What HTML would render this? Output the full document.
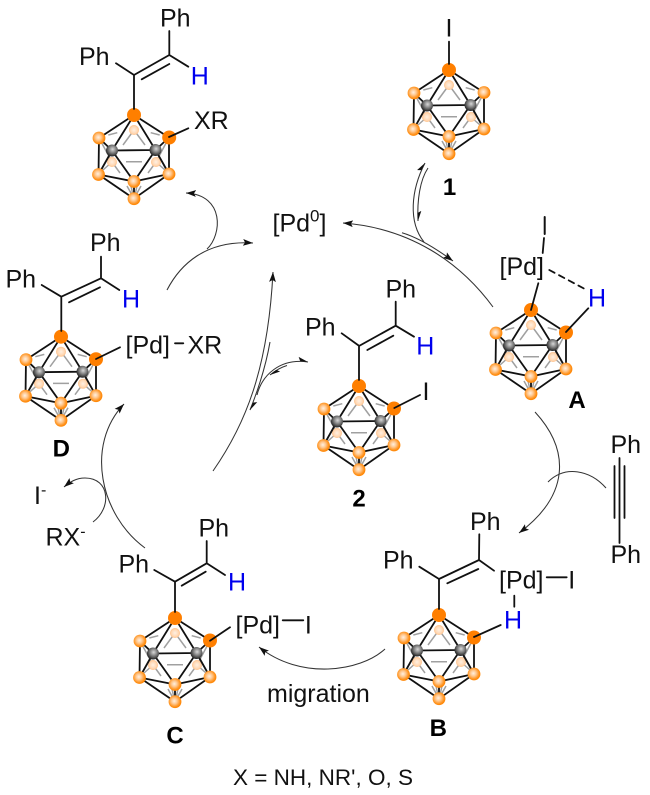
<!DOCTYPE html>
<html><head><meta charset="utf-8"><style>
html,body{margin:0;padding:0;background:#fff}
svg{display:block}
text{font-family:"Liberation Sans",Arial,sans-serif;font-size:25px;fill:#111}
.b{font-weight:bold;font-size:24px;text-anchor:middle;fill:#000}
.h{fill:#0000ee}
.m{text-anchor:middle}
.k{stroke:#111;stroke-width:1.8;fill:none;stroke-linecap:round}
.a{stroke:#333;stroke-width:1.05;fill:none}
</style></head><body>
<svg width="650" height="795" viewBox="0 0 650 795" xmlns="http://www.w3.org/2000/svg">
<defs>
<radialGradient id="o" cx="45%" cy="45%" r="55%"><stop offset="0" stop-color="#fff0e0"/><stop offset=".4" stop-color="#ffc890"/><stop offset=".8" stop-color="#ff9420"/><stop offset="1" stop-color="#ff8400"/></radialGradient>
<radialGradient id="p" cx="50%" cy="50%" r="50%"><stop offset="0" stop-color="#fff0e2"/><stop offset=".7" stop-color="#ffd8b4"/><stop offset="1" stop-color="#ffc088"/></radialGradient>
<radialGradient id="c" cx="55%" cy="40%" r="60%"><stop offset="0" stop-color="#d8d8d8"/><stop offset=".55" stop-color="#777"/><stop offset="1" stop-color="#222"/></radialGradient>
<marker id="ah" markerUnits="userSpaceOnUse" markerWidth="12" markerHeight="10" refX="10" refY="5" orient="auto"><path d="M0,1.6 L10,5 L0,8.4 L2,5 Z" fill="#111"/></marker>
<marker id="hh" markerUnits="userSpaceOnUse" markerWidth="12" markerHeight="10" refX="10" refY="5" orient="auto"><path d="M0,1.2 L10,5 L2,5 Z" fill="#111"/></marker>
<g id="cage">
<g stroke="#a0a0a0" stroke-width="1.5" fill="none">
<path d="M0,15L-11,30M0,15L11,30M-25.7,20L-16.7,17.7M25.7,20L16.7,17.7M-8,46.7L8,46.7"/>
<path d="M-35,23L-22,47L-14,58M-22,47L-31,55M35,22.5L22,47L14,58M22,47L31,55M-7,71L-2,80M7,71L2,80M-3,71L-1,80M3,71L1,80"/>
</g>
<circle cx="0" cy="15" r="5" fill="url(#p)"/>
<circle cx="-22" cy="47" r="5" fill="url(#p)"/>
<circle cx="22" cy="47" r="5" fill="url(#p)"/>
<g stroke="#111" stroke-width="1.8" fill="none">
<path d="M0,0L-35,23M0,0L35,22.5M0,0L-22,35.5M0,0L21.5,35M-35,23L-22,35.5M35,22.5L21.5,35M-22,35.5L21.5,35"/>
<path d="M-22,35.5L0,66.5M21.5,35L0,66.5M-22,35.5L-35.5,59.5M21.5,35L35,59M-35,23L-35.5,59.5M35,22.5L35,59"/>
<path d="M-35.5,59.5L0,66.5M35,59L0,66.5M-35.5,59.5L0,83.7M35,59L0,83.7M0,66.5L0,83.7"/>
</g>
<g fill="url(#o)">
<circle cx="-35" cy="23" r="6.4"/><circle cx="35" cy="22.5" r="6.4"/>
<circle cx="-35.5" cy="59.5" r="6.4"/><circle cx="35" cy="59" r="6.4"/>
<circle cx="0" cy="66.5" r="6.4"/><circle cx="0" cy="83.7" r="6.4"/>
</g>
<circle cx="-22" cy="35.5" r="6" fill="url(#c)"/><circle cx="21.5" cy="35" r="6" fill="url(#c)"/>
<circle cx="0" cy="0" r="7" fill="#ff7f00"/>
</g>
</defs>
<rect width="650" height="795" fill="#fff"/>

<!-- cages -->
<use href="#cage" x="134" y="115"/><circle cx="169.2" cy="137.5" r="7" fill="#ff7f00"/>
<use href="#cage" x="449" y="70"/>
<use href="#cage" x="531" y="310"/><circle cx="566" cy="332.5" r="7" fill="#ff7f00"/>
<use href="#cage" x="359" y="386"/><circle cx="394" cy="408.5" r="7" fill="#ff7f00"/>
<use href="#cage" x="61" y="336.7"/><circle cx="96" cy="359.2" r="7" fill="#ff7f00"/>
<use href="#cage" x="439" y="615"/><circle cx="474" cy="637.5" r="7" fill="#ff7f00"/>
<use href="#cage" x="175" y="618"/><circle cx="210" cy="640.5" r="7" fill="#ff7f00"/>

<!-- bonds -->
<g class="k">
<path d="M134,109V75L169.3,55M141.7,79.3L169.3,64M116,63.3L134,75M169.3,55V31M169.3,55L188.3,66.7M169,137L188.3,128.3"/>
<path d="M449,64V41.7"/>
<path d="M544,238L542.7,253M538.3,283.3L531,310M566,332L588.3,308.3"/>
<path d="M549.3,270L586.7,290" stroke-dasharray="6,5"/>
<path d="M544.7,217V234" stroke-width="2"/>
<path d="M359,380V346L395.7,325.7M367.3,350L393.3,335.7M341.7,333.3L359.3,346M395.7,325.7V301.7M395.7,325.7L414,336.7M394.3,408L420,395"/>
<path d="M61.3,331V296.7L101,278.3M69,302.3L100,287.3M41.7,285L61.3,296.7M101,278.3V256.7M101,278.3L119.3,290M96,359L120,347.3"/>
<path d="M175,343.3H183.3"/>
<path d="M439,609V579L479,560M447.3,583.3L478.3,569M419.3,566.7L439,579M479,560L479.3,534.3M479,560L494,570.7M546.7,577.3H566.7M514.3,595.7V606.7M474,637L500.7,625"/>
<path d="M175,612V581.7L206.7,563.3M181.7,585.7L205.7,571.7M154.3,570L175,581.7M206.7,563.3V541M206.7,563.3L225,575M282.7,620.3H303.3M210,640.7L230,627.3"/>
<path d="M614.5,466V518M619.5,458V543M624.5,466V518"/>
</g>

<!-- arrows -->
<g class="a">
<path d="M493,307C460,262 410,228 343,223" marker-end="url(#ah)"/>
<path d="M402,232.7C420,238 438,250 453,261" marker-end="url(#ah)"/>
<path d="M424,242C408,222 411,190 425,163" marker-end="url(#hh)"/>
<path d="M428,168C420,180 417,200 418,221" marker-end="url(#hh)"/>
<path d="M535,412C570,450 570,495 519,533" marker-end="url(#ah)"/>
<path d="M606,488C590,470 565,465 548,482"/>
<path d="M385,649C360,672 300,680 259,647" marker-end="url(#ah)"/>
<path d="M145,548C100,515 85,445 124,404" marker-end="url(#ah)"/>
<path d="M93,522C112,508 110,478 85,478C76,478 70,482 64,487" marker-end="url(#ah)"/>
<path d="M167,290C180,265 205,240 253,243" marker-end="url(#ah)"/>
<path d="M207,249C222,235 225,195 186,193" marker-end="url(#ah)"/>
<path d="M213,471C245,425 268,370 273,272" marker-end="url(#ah)"/>
<path d="M270,342C266,365 260,385 250,410" marker-end="url(#hh)"/>
<path d="M257,395C262,375 280,358 308,362" marker-end="url(#hh)"/>
<path d="M287,365.5C282,367 276,370 270,375" marker-end="url(#hh)"/>
</g>

<!-- labels -->
<text x="79" y="65">Ph</text><text x="160" y="26.7">Ph</text><text x="190.7" y="84.3" class="h">H</text><text x="194" y="129">XR</text>
<text x="449" y="36.7" class="m">I</text><text x="449.5" y="195" class="b">1</text>
<text x="499.5" y="275">[Pd]</text><text x="588" y="306.7" class="h">H</text><text x="577" y="408" class="b">A</text>
<text x="272.5" y="231.7">[Pd<tspan dy="-10" font-size="17">0</tspan><tspan dy="10">]</tspan></text>
<text x="305" y="335.7">Ph</text><text x="385.5" y="297.3">Ph</text><text x="416.3" y="354.3" class="h">H</text><text x="426" y="400" class="m">I</text><text x="359" y="506.7" class="b">2</text>
<text x="5.5" y="287.3">Ph</text><text x="90" y="251">Ph</text><text x="122" y="307.3" class="h">H</text>
<text x="125.5" y="353.3">[Pd]</text><text x="187.5" y="353.3">XR</text><text x="61.3" y="456.7" class="b">D</text>
<text x="610.5" y="453">Ph</text><text x="610.5" y="563">Ph</text>
<text x="383" y="568.3">Ph</text><text x="470" y="530">Ph</text><text x="499" y="588.3">[Pd]</text><text x="571.7" y="588.3" class="m">I</text><text x="504" y="628.3" class="h">H</text><text x="438.3" y="736" class="b">B</text>
<text x="118.5" y="572.7">Ph</text><text x="198.5" y="536.7">Ph</text><text x="228" y="590.7" class="h">H</text><text x="235.5" y="633.3">[Pd]</text><text x="308.3" y="633.3" class="m">I</text><text x="175" y="743.3" class="b">C</text>
<text x="267" y="702">migration</text>
<text x="34" y="504">I<tspan dy="-9" font-size="16">-</tspan></text>
<text x="45.5" y="545.7">RX<tspan dy="-9" font-size="16">-</tspan></text>
<text x="323" y="785" class="m" style="font-size:22.5px">X = NH, NR', O, S</text>
</svg>
</body></html>
